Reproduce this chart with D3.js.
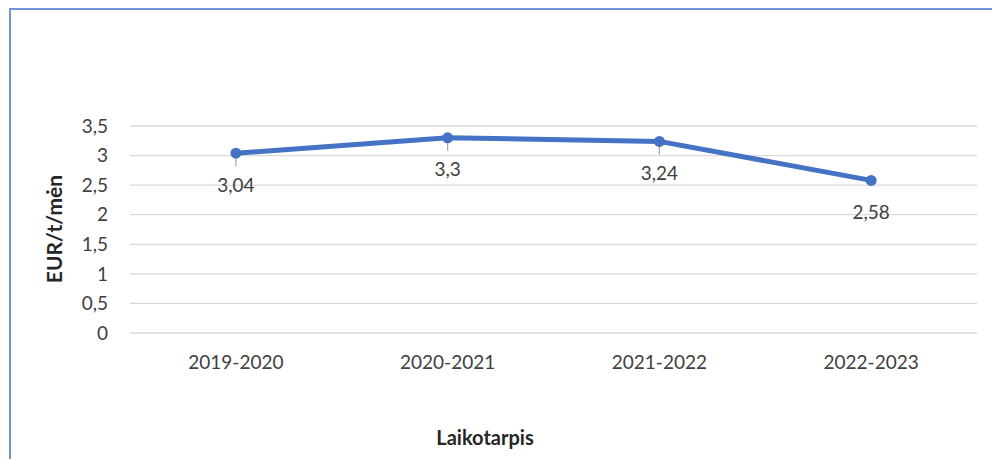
<!DOCTYPE html>
<html>
<head>
<meta charset="utf-8">
<script src="https://cdn.jsdelivr.net/npm/d3@7"></script>
<style>
  body { margin: 0; background: #fff; }
  svg { display: block; }
</style>
</head>
<body>
<div id="chart"></div>
<script>
var periods = ["2019-2020", "2020-2021", "2021-2022", "2022-2023"];
var values = [3.04, 3.3, 3.24, 2.58];
var labels = ["3,04", "3,3", "3,24", "2,58"];
var yTicks = [0, 0.5, 1, 1.5, 2, 2.5, 3, 3.5];
var yTickLabels = ["0", "0,5", "1", "1,5", "2", "2,5", "3", "3,5"];

var width = 992, height = 459;
var margin = {left: 130, right: 15, top: 126, bottom: 126};
var font = "Lato, 'Open Sans', sans-serif";

var svg = d3.select("#chart")
  .append("svg")
  .attr("width", width)
  .attr("height", height);

// frame
svg.append("path")
  .attr("d", "M10,459 L10,9 L992,9")
  .attr("fill", "none")
  .attr("stroke", "#7293d3")
  .attr("stroke-width", 2);

var x = d3.scaleBand()
  .domain(periods)
  .range([margin.left, width - margin.right]);

var y = d3.scaleLinear()
  .domain([0, 3.5])
  .range([height - margin.bottom, margin.top]);

// grid
svg.append("g")
  .selectAll("line")
  .data(yTicks)
  .enter()
  .append("line")
  .attr("x1", margin.left)
  .attr("x2", width - margin.right)
  .attr("y1", function(d){ return y(d); })
  .attr("y2", function(d){ return y(d); })
  .attr("stroke", "#d9d9d9")
  .attr("stroke-width", 1.3);

// y tick labels
svg.append("g")
  .selectAll("text")
  .data(yTicks)
  .enter()
  .append("text")
  .attr("x", 108)
  .attr("y", function(d){ return y(d); })
  .attr("dy", "0.35em")
  .attr("text-anchor", "end")
  .style("font-family", font)
  .style("font-size", "19px")
  .style("fill", "#404040")
  .text(function(d, i){ return yTickLabels[i]; });

// x tick labels
svg.append("g")
  .selectAll("text")
  .data(periods)
  .enter()
  .append("text")
  .attr("x", function(d){ return x(d) + x.bandwidth() / 2; })
  .attr("y", 362)
  .attr("dy", "0.35em")
  .attr("text-anchor", "middle")
  .style("font-family", font)
  .style("font-size", "19px")
  .style("fill", "#404040")
  .text(function(d){ return d; });

// axis titles
svg.append("text")
  .attr("transform", "translate(55,229) rotate(-90)")
  .attr("dy", "0.35em")
  .attr("text-anchor", "middle")
  .style("font-family", font)
  .style("font-size", "21px")
  .style("font-weight", "bold")
  .style("fill", "#262626")
  .text("EUR/t/mėn");

svg.append("text")
  .attr("x", 485)
  .attr("y", 438)
  .attr("dy", "0.35em")
  .attr("text-anchor", "middle")
  .style("font-family", font)
  .style("font-size", "20px")
  .style("font-weight", "bold")
  .style("fill", "#262626")
  .text("Laikotarpis");

var cx = function(d, i){ return x(periods[i]) + x.bandwidth() / 2; };

// leader lines
svg.append("g")
  .selectAll("line")
  .data(values.slice(0, 3))
  .enter()
  .append("line")
  .attr("x1", cx)
  .attr("x2", cx)
  .attr("y1", function(d){ return y(d); })
  .attr("y2", function(d){ return y(d) + 13; })
  .attr("stroke", "#a6a6a6")
  .attr("stroke-width", 1.2);

var line = d3.line()
  .x(cx)
  .y(function(d){ return y(d); });

svg.append("path")
  .datum(values)
  .attr("d", line)
  .attr("fill", "none")
  .attr("stroke", "#4472c4")
  .attr("stroke-width", 5)
  .attr("stroke-linejoin", "round");

svg.append("g")
  .selectAll("circle")
  .data(values)
  .enter()
  .append("circle")
  .attr("cx", cx)
  .attr("cy", function(d){ return y(d); })
  .attr("r", 5.5)
  .attr("fill", "#4472c4");

// data labels
svg.append("g")
  .selectAll("text")
  .data(values)
  .enter()
  .append("text")
  .attr("x", cx)
  .attr("y", function(d){ return y(d) + 32; })
  .attr("dy", "0.35em")
  .attr("text-anchor", "middle")
  .style("font-family", font)
  .style("font-size", "19px")
  .style("fill", "#404040")
  .text(function(d, i){ return labels[i]; });
</script>
</body>
</html>
